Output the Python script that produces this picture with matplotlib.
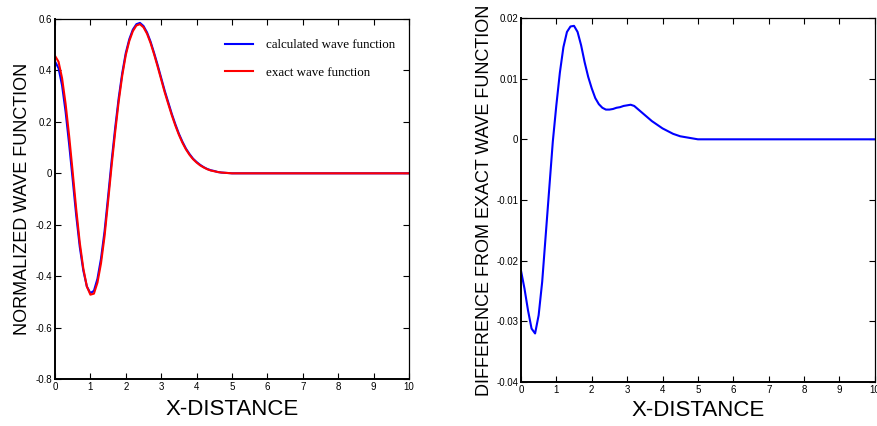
import numpy as np
import matplotlib.pyplot as plt
from matplotlib.ticker import FuncFormatter

# sample positions (0 .. 5 step 0.1, then flat tail to 10)
x = np.append(np.linspace(0.0, 5.0, 51), 10.0)

exact = [0.457, 0.434, 0.370, 0.270, 0.145, 0.005, -0.140, -0.270, -0.370, -0.440,
         -0.472, -0.468, -0.425, -0.350, -0.245, -0.110, 0.030, 0.160, 0.280, 0.380,
         0.460, 0.515, 0.553, 0.575, 0.580, 0.568, 0.543, 0.507, 0.463, 0.415,
         0.365, 0.315, 0.270, 0.226, 0.186, 0.150, 0.119, 0.093, 0.072, 0.055,
         0.042, 0.031, 0.023, 0.016, 0.011, 0.008, 0.005, 0.003, 0.002, 0.001,
         0.0, 0.0]

calc = [0.435, 0.409, 0.342, 0.239, 0.113, -0.024, -0.164, -0.286, -0.378, -0.440,
        -0.466, -0.457, -0.410, -0.332, -0.226, -0.091, 0.048, 0.176, 0.293, 0.390,
        0.468, 0.522, 0.559, 0.580, 0.585, 0.573, 0.548, 0.512, 0.468, 0.421,
        0.371, 0.321, 0.276, 0.231, 0.191, 0.154, 0.123, 0.096, 0.075, 0.057,
        0.044, 0.033, 0.024, 0.017, 0.012, 0.009, 0.005, 0.003, 0.002, 0.001,
        0.0, 0.0]

diff = [-0.0216, -0.0246, -0.0282, -0.0312, -0.0320, -0.0290, -0.0235, -0.0158, -0.0081, -0.0004,
        0.0056, 0.0110, 0.0152, 0.0177, 0.0186, 0.0187, 0.0177, 0.0155, 0.0127, 0.0103,
        0.0084, 0.0068, 0.0058, 0.0052, 0.0049, 0.0049, 0.0050, 0.0052, 0.0053, 0.0055,
        0.0056, 0.0057, 0.0055, 0.0050, 0.0045, 0.0040, 0.0035, 0.0030, 0.0026, 0.0022,
        0.0018, 0.0015, 0.0012, 0.0009, 0.0007, 0.0005, 0.0004, 0.0003, 0.0002, 0.0001,
        0.0, 0.0]

plt.rcParams['font.family'] = ['Liberation Sans', 'DejaVu Sans']
plt.rcParams['axes.unicode_minus'] = False

fmt = FuncFormatter(lambda v, p: "%g" % (round(v, 6) + 0.0))


def style(ax):
    ax.tick_params(direction="in", top=True, right=True, length=4,
                   width=0.8, labelsize=7, pad=2)
    for s in ax.spines.values():
        s.set_linewidth(0.9)
    ax.spines["left"].set_linewidth(1.4)
    ax.spines["bottom"].set_linewidth(1.4)
    ax.xaxis.set_major_formatter(fmt)
    ax.yaxis.set_major_formatter(fmt)


fig = plt.figure(figsize=(8.77, 4.26), dpi=100)

ax1 = fig.add_axes([0.0627, 0.1103, 0.4036, 0.845])
ax1.plot(x, calc, color="#0000ff", lw=1.5, label="calculated wave function")
ax1.plot(x, exact, color="#ff0000", lw=1.5, label="exact wave function")
ax1.set_xlim(0, 10)
ax1.set_ylim(-0.8, 0.6)
ax1.set_xticks(range(0, 11))
ax1.set_yticks(np.arange(-0.8, 0.61, 0.2))
style(ax1)
ax1.set_xlabel("X-DISTANCE", fontsize=16, labelpad=5)
ax1.set_ylabel("NORMALIZED WAVE FUNCTION", fontsize=13, labelpad=3)
ax1.legend(loc="upper right", frameon=False, prop={"family": "Liberation Serif", "size": 9.4},
           handlelength=2.2, handletextpad=1.0, labelspacing=1.2,
           bbox_to_anchor=(0.995, 0.977))

ax2 = fig.add_axes([0.594, 0.1033, 0.4036, 0.8545])
ax2.plot(x, diff, color="#0000ff", lw=1.5)
ax2.set_xlim(0, 10)
ax2.set_ylim(-0.04, 0.02)
ax2.set_xticks(range(0, 11))
ax2.set_yticks(np.arange(-0.04, 0.021, 0.01))
style(ax2)
ax2.set_xlabel("X-DISTANCE", fontsize=16, labelpad=4)
ax2.set_ylabel("DIFFERENCE FROM EXACT WAVE FUNCTION", fontsize=13, labelpad=2)

fig.savefig("out.png", dpi=100)
